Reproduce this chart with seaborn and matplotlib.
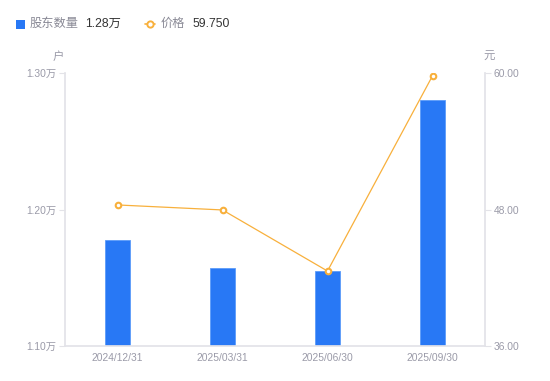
import matplotlib
matplotlib.use("Agg")
import matplotlib.pyplot as plt
import seaborn as sns
import pandas as pd
from matplotlib.lines import Line2D
from matplotlib.patches import Rectangle

dates = ["2024/12/31", "2025/03/31", "2025/06/30", "2025/09/30"]
holders = [1.178, 1.1575, 1.155, 1.28]   # 万户
prices = [48.40, 47.96, 42.59, 59.75]     # 元
left_ticks = [1.10, 1.20, 1.30]
right_ticks = [36.00, 48.00, 60.00]

sns.set_theme(style="white")
plt.rcParams['font.family'] = ['Liberation Sans', 'Noto Sans CJK SC', 'DejaVu Sans']

BLUE = "#2878F5"
ORANGE = "#F8B03C"
GRAY = "#9A9AA8"
AXC = "#E3E3E8"

df = pd.DataFrame({"date": dates, "holders": holders, "price": prices})

fig = plt.figure(figsize=(5.5, 3.81), dpi=100)
ax = fig.add_axes([65/550, 1-346/381, 420/550, (346-73)/381])

sns.barplot(data=df, x="date", y="holders", color=BLUE, width=0.23,
            saturation=1, ax=ax, edgecolor="#5C9BFA", linewidth=0.6)
ax.set_ylim(left_ticks[0], left_ticks[-1])
ax.set_yticks(left_ticks)
ax.set_yticklabels([f"{v:.2f}万" for v in left_ticks])
ax.set_xlim(-0.5, len(dates)-0.5)
ax.set_xlabel("")
ax.set_ylabel("")

ax2 = ax.twinx()
sns.pointplot(data=df, x="date", y="price", color=ORANGE, ax=ax2,
              markers="o", linestyles="-", markersize=4, linewidth=0.9,
              markerfacecolor="white", markeredgewidth=1.5)
ax2.set_ylim(right_ticks[0], right_ticks[-1])
ax2.set_yticks(right_ticks)
ax2.set_yticklabels([f"{v:.2f}" for v in right_ticks])
ax2.set_xlim(-0.5, len(dates)-0.5)
ax2.set_xlabel("")
ax2.set_ylabel("")

for a in (ax, ax2):
    for s in a.spines.values():
        s.set_visible(False)
    a.tick_params(colors=GRAY, labelsize=7.4, length=4, width=0.8, color=AXC, pad=2)
    a.grid(False)
ax.spines["left"].set_visible(True)
ax.spines["left"].set_color(AXC)
ax.spines["bottom"].set_visible(True)
ax.spines["bottom"].set_color(AXC)
ax2.spines["right"].set_visible(True)
ax2.spines["right"].set_color(AXC)
ax.tick_params(axis="x", length=0, pad=5)
for lab in ax.get_xticklabels() + ax.get_yticklabels() + ax2.get_yticklabels():
    lab.set_color(GRAY)

fig.text(58/550, 1-57/381, "户", ha="center", va="center", fontsize=8.2, color=GRAY)
fig.text(489/550, 1-57/381, "元", ha="center", va="center", fontsize=8.2, color=GRAY)

# legend
fig.patches.append(Rectangle((16/550, 1-29/381), 9/550, 9/381, transform=fig.transFigure,
                             facecolor=BLUE, edgecolor="none", figure=fig))
fig.text(30/550, 1-24/381, "股东数量", ha="left", va="center", fontsize=8.8, color="#8A8A96")
fig.text(85/550, 1-24/381, f"{holders[-1]:.2f}万", ha="left", va="center", fontsize=8.8, color="#333333")
fig.lines.append(Line2D([145/550, 155/550], [1-24/381, 1-24/381], transform=fig.transFigure,
                        color=ORANGE, lw=1.2, figure=fig))
fig.lines.append(Line2D([150/550], [1-24/381], transform=fig.transFigure, color=ORANGE,
                        marker="o", markersize=4.5, markerfacecolor="white",
                        markeredgewidth=1.4, figure=fig))
fig.text(161/550, 1-24/381, "价格", ha="left", va="center", fontsize=8.8, color="#8A8A96")
fig.text(192/550, 1-24/381, f"{prices[-1]:.3f}", ha="left", va="center", fontsize=8.8, color="#333333")

fig.savefig("out.png", dpi=100)
